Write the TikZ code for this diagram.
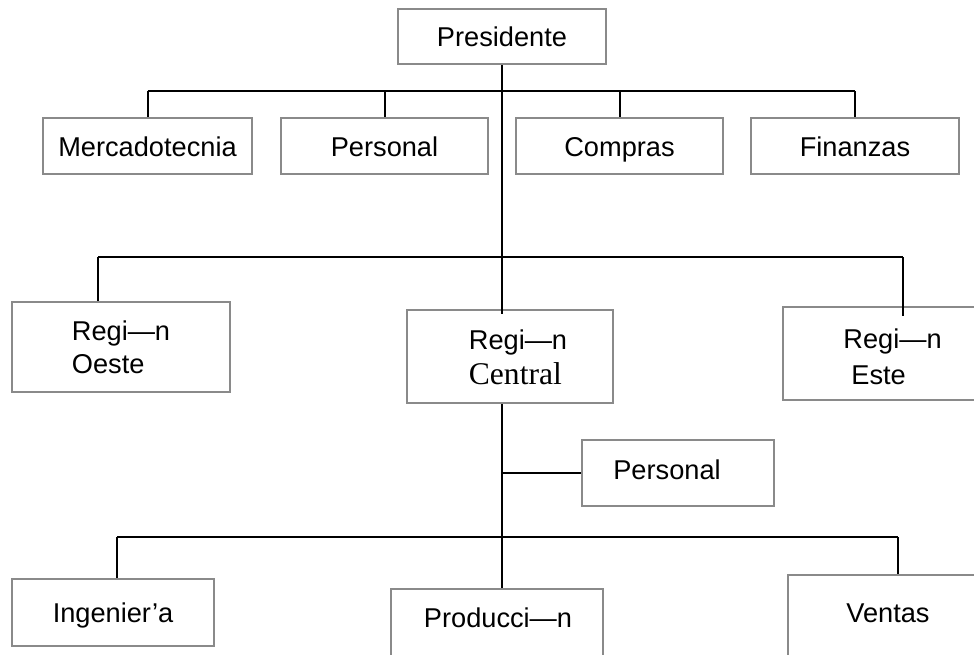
\documentclass[tikz,border=0pt]{standalone}
\usepackage{fontspec}
\usetikzlibrary{calc}
\newfontfamily\arialf{Liberation Sans}
\newfontfamily\timesf{Liberation Serif}
\definecolor{boxgray}{HTML}{8A8A8A}
\begin{document}
\begin{tikzpicture}[x=1pt,y=-1pt,
  box/.style={draw=boxgray, line width=2pt, rectangle, inner sep=0pt,
    font=\arialf\fontsize{27.2}{33}\selectfont, text height=20pt, text depth=0pt},
  txt/.style={inner sep=0pt, font=\arialf\fontsize{27.2}{33}\selectfont, align=left},
  conn/.style={line width=2pt, black},
  bus/.style={line width=2.6pt, black}]
\useasboundingbox[fill=white] (0,0) rectangle (974,654);
\clip (0,0) rectangle (974,654);

% boxes
\node[box, minimum width=208pt, minimum height=55pt] (pres) at (502,36.5) {Presidente};
\node[box, minimum width=209pt, minimum height=56pt] (merc) at (147.5,146) {Mercadotecnia};
\node[box, minimum width=207pt, minimum height=56pt] (pers) at (384.5,146) {Personal};
\node[box, minimum width=207pt, minimum height=56pt] (comp) at (619.5,146) {Compras};
\node[box, minimum width=208pt, minimum height=56pt] (fin) at (855,146) {Finanzas};

\node[box, minimum width=218pt, minimum height=90pt] (oeste) at (121,347) {};
\node[txt] (oesteT) at (121,347) {Regi—n\\Oeste};
\node[box, minimum width=206pt, minimum height=93pt] (central) at (510,356.5) {};
\node[txt] (centralT) at (518,357) {Regi—n\\[2pt]{\timesf\fontsize{31.6}{33}\selectfont Central}};
\node[box, minimum width=218pt, minimum height=93pt] (este) at (892,353.5) {};
\node[txt] (esteT) at (892.5,357) {Regi—n\\[3pt]\hspace*{8pt}Este};

\node[box, minimum width=192pt, minimum height=66pt] (pers2) at (678,473) {};
\node[txt] (pers2T) at (667,470) {Personal};

\node[box, minimum width=202pt, minimum height=67pt] (ing) at (113,612) {Ingenier’a};
\node[box, minimum width=212pt, minimum height=81pt] (prod) at (497,629.5) {};
\node[txt] (prodT) at (498,618) {Producci—n};
\node[box, minimum width=200pt, minimum height=95pt] (ventas) at (888,622.5) {};
\node[txt] (ventasT) at (888,613) {Ventas};

% level 1 bus
\coordinate (h1) at (502,91);
\draw[bus] (merc.north |- h1) -- (fin.north |- h1);
\foreach \b in {merc,pers,comp,fin}{
  \draw[conn] (\b.north |- h1) -- (\b.north);
}
% main trunk
\draw[conn] (pres.south) -- ($(pres.south |- central.north)+(0,5)$);
\draw[conn] (pres.south |- central.south) -- (pres.south |- prod.north);

% level 2 bus
\coordinate (h2) at (502,257);
\coordinate (oesteS) at ($(oeste.north west)+(87,0)$);
\coordinate (esteS) at ($(este.north)+(11,0)$);
\draw[bus] (oesteS |- h2) -- (esteS |- h2);
\draw[conn] (oesteS |- h2) -- (oesteS);
\draw[conn] (esteS |- h2) -- ($(esteS)+(0,10)$);

% staff
\draw[conn] (pers2.west -| pres.south) -- (pers2.west);

% level 3 bus
\coordinate (h3) at (502,537);
\coordinate (ingS) at ($(ing.north)+(4,0)$);
\coordinate (ventasS) at ($(ventas.north)+(10,0)$);
\draw[bus] (ingS |- h3) -- (ventasS |- h3);
\draw[conn] (ingS |- h3) -- (ingS);
\draw[conn] (ventasS |- h3) -- (ventasS);
\end{tikzpicture}
\end{document}
